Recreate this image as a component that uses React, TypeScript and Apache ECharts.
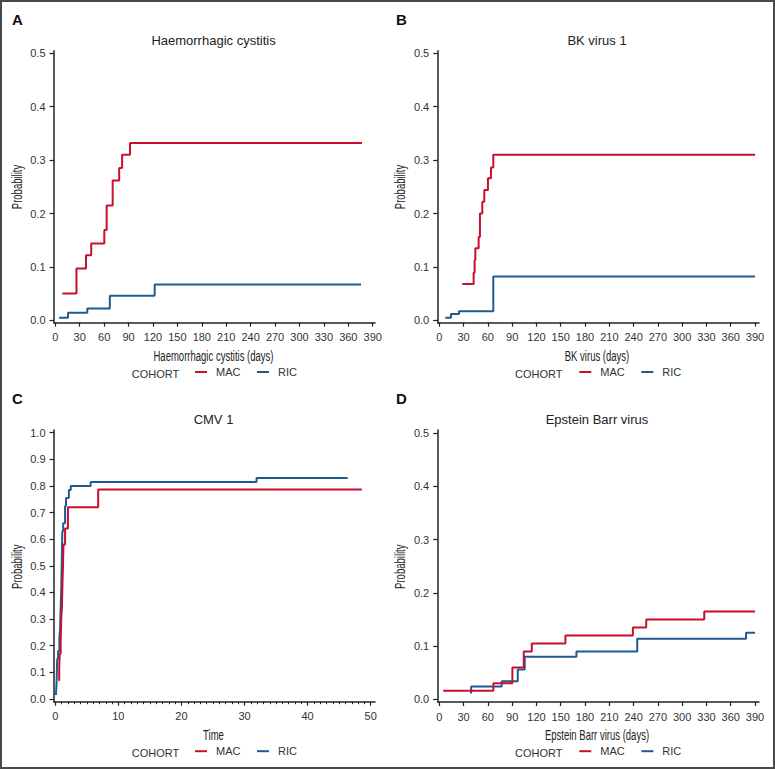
import React, { useEffect, useRef } from "react";
import * as echarts from "echarts";

// ---------- data ----------
// Panel A: Haemorrhagic cystitis
const hcMacDays = [8.6, 26.0, 37.7, 44.1, 60.2, 63.1, 70.5, 78.5, 82.1, 91.8, 376.8];
const hcMacProb = [0.05, 0.097, 0.122, 0.144, 0.169, 0.215, 0.262, 0.285, 0.31, 0.332, 0.332];
const hcRicDays = [4.7, 15.6, 39.3, 67.0, 122.1, 375.6];
const hcRicProb = [0.005, 0.014, 0.022, 0.046, 0.067, 0.067];

// Panel B: BK virus 1
const bkMacDays = [28.4, 42.4, 43.6, 44.5, 48.6, 50.2, 53.1, 55.6, 60.1, 63.8, 66.7, 390];
const bkMacProb = [0.068, 0.089, 0.113, 0.135, 0.156, 0.2, 0.222, 0.244, 0.266, 0.286, 0.31, 0.31];
const bkRicDays = [7.4, 14.4, 24.3, 66.7, 390];
const bkRicProb = [0.005, 0.012, 0.017, 0.082, 0.082];

// Panel C: CMV 1
const cmvMacTime = [0.5, 0.62, 0.7, 0.85, 0.95, 1.05, 1.12, 1.22, 1.3, 1.55, 2.0, 6.8, 48.6];
const cmvMacProb = [0.07, 0.11, 0.17, 0.21, 0.31, 0.34, 0.42, 0.5, 0.58, 0.64, 0.72, 0.787, 0.787];
const cmvRicTime = [0.1, 0.2, 0.3, 0.45, 0.65, 0.75, 0.85, 0.95, 1.05, 1.12, 1.25, 1.55, 1.7, 2.15, 2.45, 5.6, 31.9, 46.35];
const cmvRicProb = [0.015, 0.06, 0.15, 0.18, 0.23, 0.26, 0.34, 0.42, 0.55, 0.63, 0.66, 0.725, 0.755, 0.785, 0.8, 0.815, 0.83, 0.83];

// Panel D: Epstein Barr virus
const ebvMacDays = [4.9, 66.8, 90.3, 104.3, 114.2, 155.8, 239.1, 255.6, 327.3, 390];
const ebvMacProb = [0.016, 0.03, 0.06, 0.09, 0.105, 0.12, 0.135, 0.15, 0.165, 0.165];
const ebvRicDays = [39.2, 39.4, 77.1, 96.9, 105.5, 169.4, 244.5, 378.9, 390];
const ebvRicProb = [0.011, 0.024, 0.034, 0.056, 0.08, 0.09, 0.114, 0.125, 0.125];

// ticks
const dayTicks = [0, 30, 60, 90, 120, 150, 180, 210, 240, 270, 300, 330, 360, 390];
const timeTicks = [0, 10, 20, 30, 40, 50];
const timeMinorTicks = Array.from({ length: 51 }, (_, i) => i).filter((v) => v % 10 !== 0);
const probTicksHalf = [0, 0.1, 0.2, 0.3, 0.4, 0.5];
const probTicksFull = [0, 0.1, 0.2, 0.3, 0.4, 0.5, 0.6, 0.7, 0.8, 0.9, 1.0];

const titles = ["Haemorrhagic cystitis", "BK virus 1", "CMV 1", "Epstein Barr virus"];
const xNames = ["Haemorrhagic cystitis (days)", "BK virus (days)", "Time", "Epstein Barr virus (days)"];
const panelLetters = ["A", "B", "C", "D"];
const cohortNames = ["MAC", "RIC"];

const FONT = "'Liberation Sans', Arial, Helvetica, sans-serif";
const RED = "#C8102E";
const BLUE = "#1F5A91";
const AXIS = "#222";
const TXT = "#333";

const zip = (xs: number[], ys: number[]) => xs.map((x, i) => [x, ys[i]]);

export default function App() {
  const ref = useRef<HTMLDivElement>(null);

  useEffect(() => {
    if (!ref.current) return;
    const chart = echarts.init(ref.current, undefined, { renderer: "svg" });

    // panel geometry
    const panels = [
      { left: 54, top: 50.7, width: 321, height: 272, xmin: -1.6, xmax: 392.8, ymin: -0.0045, ymax: 0.5049, xt: dayTicks, yt: probTicksHalf, cx: 213.5, ty: 40, xny: 356, yny: 187, lx: 17, px: 12, py: 19, legY: 373.5 },
      { left: 437.7, top: 50.7, width: 321.3, height: 272, xmin: -1.98, xmax: 394.9, ymin: -0.0045, ymax: 0.5049, xt: dayTicks, yt: probTicksHalf, cx: 597, ty: 40, xny: 356, yny: 187, lx: 400.7, px: 396, py: 19, legY: 373.5 },
      { left: 54, top: 430, width: 321, height: 271.7, xmin: -0.206, xmax: 50.68, ymin: -0.0101, ymax: 1.0101, xt: timeTicks, yt: probTicksFull, cx: 213.5, ty: 419, xny: 735, yny: 566.7, lx: 17, px: 12, py: 398, legY: 752.7 },
      { left: 437.7, top: 430, width: 321.3, height: 272, xmin: -1.98, xmax: 394.9, ymin: -0.005, ymax: 0.506, xt: dayTicks, yt: probTicksHalf, cx: 597, ty: 419, xny: 735, yny: 566.7, lx: 400.7, px: 396, py: 398, legY: 752.7 },
    ];

    const axisLine = { show: true, onZero: false, lineStyle: { color: AXIS, width: 1.5 } };
    const grid = panels.map((p) => ({ left: p.left, top: p.top, width: p.width, height: p.height, containLabel: false }));

    const xAxis: any[] = panels.map((p, i) => ({
      gridIndex: i,
      type: "value",
      position: "bottom",
      min: p.xmin,
      max: p.xmax,
      axisLine,
      axisTick: { show: true, inside: false, length: 4, lineStyle: { color: AXIS, width: 1.2 }, customValues: p.xt },
      axisLabel: { customValues: p.xt, color: TXT, fontSize: 11, fontFamily: FONT, margin: 9 },
      splitLine: { show: false },
    }));
    // minor ticks for CMV time axis
    xAxis.push({
      gridIndex: 2,
      type: "value",
      position: "bottom",
      min: panels[2].xmin,
      max: panels[2].xmax,
      axisLine: { show: false, onZero: false },
      axisTick: { show: true, inside: false, length: 2.5, lineStyle: { color: AXIS, width: 1 }, customValues: timeMinorTicks },
      axisLabel: { show: false },
      splitLine: { show: false },
    });

    const yAxis = panels.map((p, i) => ({
      gridIndex: i,
      type: "value",
      position: "left",
      min: p.ymin,
      max: p.ymax,
      axisLine,
      axisTick: { show: true, inside: false, length: 4.5, lineStyle: { color: AXIS, width: 1.2 }, customValues: p.yt },
      axisLabel: {
        customValues: p.yt,
        color: TXT,
        fontSize: 11,
        fontFamily: FONT,
        margin: 8.5,
        formatter: (v: number) => v.toFixed(1),
      },
      splitLine: { show: false },
    }));

    const curves = [
      [zip(hcMacDays, hcMacProb), zip(hcRicDays, hcRicProb)],
      [zip(bkMacDays, bkMacProb), zip(bkRicDays, bkRicProb)],
      [zip(cmvMacTime, cmvMacProb), zip(cmvRicTime, cmvRicProb)],
      [zip(ebvMacDays, ebvMacProb), zip(ebvRicDays, ebvRicProb)],
    ];
    const series: any[] = [];
    curves.forEach((pair, i) => {
      pair.forEach((data, j) => {
        series.push({
          type: "line",
          name: cohortNames[j],
          xAxisIndex: i,
          yAxisIndex: i,
          data,
          step: "end",
          showSymbol: false,
          symbol: "none",
          color: j === 0 ? RED : BLUE,
          lineStyle: { width: 2, color: j === 0 ? RED : BLUE },
          z: j === 0 ? 3 : 2,
        });
      });
    });

    const legend = panels.map((p, i) => ({
      data: cohortNames,
      orient: "horizontal",
      left: i % 2 === 0 ? 195 : 579.3,
      top: p.legY - 7,
      padding: 0,
      icon: "rect",
      itemWidth: 12,
      itemHeight: 2,
      itemGap: 16.6,
      selectedMode: false,
      textStyle: { color: TXT, fontSize: 11, fontFamily: FONT, padding: [0, 0, 0, 4] },
    }));

    const graphic: any[] = [
      {
        type: "rect",
        shape: { x: 1, y: 1, width: 773, height: 767 },
        style: { fill: "none", stroke: "#4a4a4a", lineWidth: 2 },
        silent: true,
      },
    ];
    panels.forEach((p, i) => {
      graphic.push({
        type: "text",
        x: p.px,
        y: p.py,
        style: { text: panelLetters[i], fontSize: 15, fontWeight: "bold", fontFamily: FONT, fill: "#111", align: "left", verticalAlign: "middle" },
      });
      graphic.push({
        type: "text",
        x: p.cx,
        y: p.ty,
        style: { text: titles[i], fontSize: 13, fontFamily: FONT, fill: "#222", align: "center", verticalAlign: "middle" },
      });
      graphic.push({
        type: "text",
        x: p.cx,
        y: p.xny,
        scaleX: 0.68,
        style: { text: xNames[i], fontSize: 14, fontFamily: FONT, fill: "#222", align: "center", verticalAlign: "middle" },
      });
      graphic.push({
        type: "text",
        x: p.lx,
        y: p.yny,
        rotation: Math.PI / 2,
        scaleX: 0.68,
        style: { text: "Probability", fontSize: 14, fontFamily: FONT, fill: "#222", align: "center", verticalAlign: "middle" },
      });
      graphic.push({
        type: "text",
        x: i % 2 === 0 ? 131.7 : 515,
        y: p.legY,
        style: { text: "COHORT", fontSize: 11, fontFamily: FONT, fill: TXT, align: "left", verticalAlign: "middle" },
      });
    });

    chart.setOption({
      animation: false,
      backgroundColor: "#fff",
      textStyle: { fontFamily: FONT },
      grid,
      xAxis,
      yAxis,
      series,
      legend,
      graphic,
    });

    return () => chart.dispose();
  }, []);

  return <div ref={ref} style={{ position: "absolute", left: 0, top: 0, width: 775, height: 769 }} />;
}
